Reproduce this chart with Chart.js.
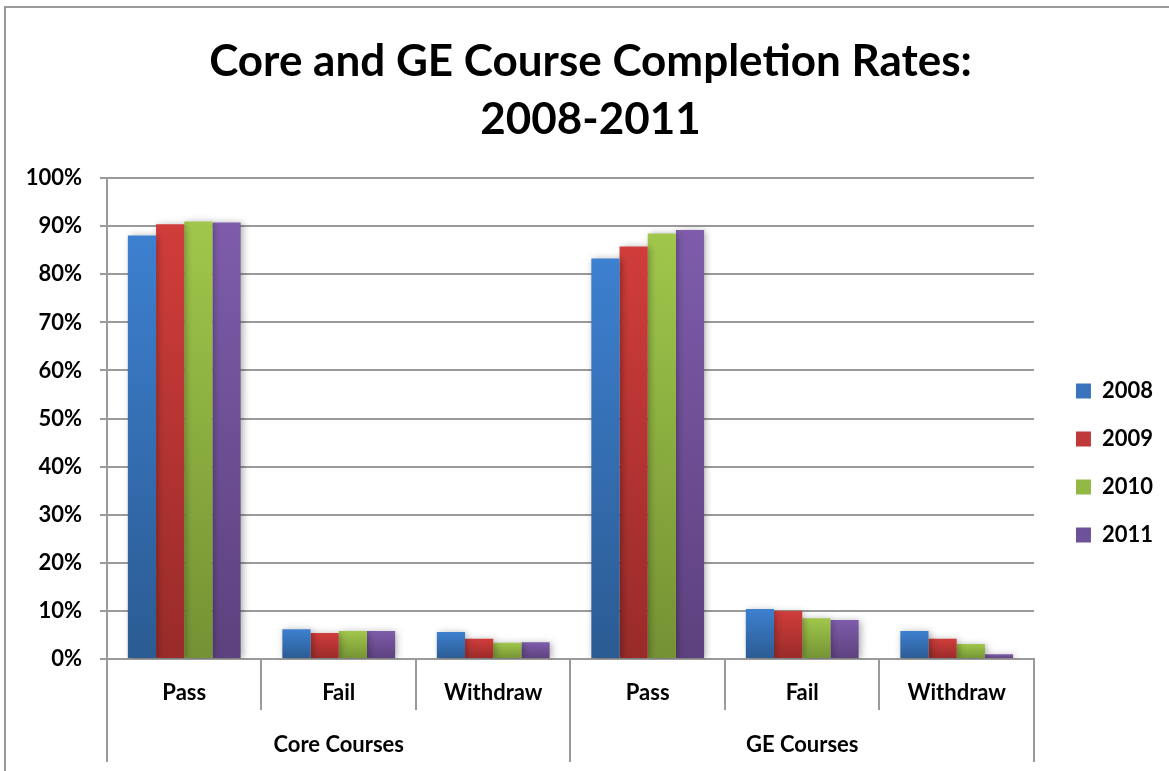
<!DOCTYPE html>
<html>
<head>
<meta charset="utf-8">
<title>Core and GE Course Completion Rates: 2008-2011</title>
<script src="https://cdn.jsdelivr.net/npm/chart.js@4"></script>
<style>
  html, body { margin: 0; padding: 0; background: #fff; }
  #wrap { position: relative; width: 1169px; height: 771px; overflow: hidden; }
  #frame {
    position: absolute; left: 4px; top: 6px; width: 1200px; height: 800px;
    border-left: 2px solid #9a9a9a; border-top: 2px solid #9a9a9a;
  }
  #chart { position: absolute; left: 0; top: 0; }
</style>
</head>
<body>
<div id="wrap">
  <div id="frame"></div>
  <canvas id="chart" width="1169" height="771"></canvas>
</div>
<script>
/* ── data ── */
const outcomes = ['Pass', 'Fail', 'Withdraw', 'Pass', 'Fail', 'Withdraw'];
const courseGroups = ['Core Courses', 'GE Courses'];
const years = ['2008', '2009', '2010', '2011'];

const rates2008 = [88.1, 6.2, 5.6, 83.3, 10.4, 5.8];
const rates2009 = [90.4, 5.4, 4.2, 85.8, 10.0, 4.2];
const rates2010 = [91.0, 5.8, 3.4, 88.5, 8.5, 3.1];
const rates2011 = [90.8, 5.8, 3.5, 89.2, 8.1, 1.0];

const yTicks = [0, 10, 20, 30, 40, 50, 60, 70, 80, 90, 100];

/* ── colours: [top, bottom, legend] ── */
const palette = [
  ['#3d80d0', '#2b5b92', '#3a74bc'],
  ['#d03d3b', '#982b29', '#c0393a'],
  ['#a0c74b', '#749233', '#92b845'],
  ['#7e5cab', '#5d417e', '#6f519a']
];

const FONT = 'Lato, "Open Sans", sans-serif';

function barFill(i) {
  return (ctx) => {
    const chart = ctx.chart;
    if (ctx.type !== 'data' || !chart.chartArea) return palette[i][2];
    const y = chart.scales.y;
    const top = y.getPixelForValue(ctx.raw);
    const base = y.getPixelForValue(0);
    if (!isFinite(top) || top === base) return palette[i][2];
    const g = chart.ctx.createLinearGradient(0, top, 0, base);
    g.addColorStop(0, palette[i][0]);
    g.addColorStop(1, palette[i][1]);
    return g;
  };
}

const seriesValues = [rates2008, rates2009, rates2010, rates2011];

const datasets = years.map((yr, i) => ({
  label: yr,
  data: seriesValues[i],
  backgroundColor: barFill(i),
  borderWidth: 0,
  categoryPercentage: 0.73,
  barPercentage: 1.0
}));

/* soft drop shadow under the bars */
const barShadow = {
  id: 'barShadow',
  beforeDatasetsDraw(chart) {
    const c = chart.ctx;
    c.save();
    c.shadowColor = 'rgba(0,0,0,0.32)';
    c.shadowBlur = 7;
    c.shadowOffsetX = 2;
    c.shadowOffsetY = 1;
  },
  afterDatasetsDraw(chart) {
    chart.ctx.restore();
  }
};

const gridGrey = '#9a9a9a';
const labelFont = { family: FONT, size: 22, weight: 'bold' };

new Chart(document.getElementById('chart'), {
  type: 'bar',
  data: { labels: outcomes, datasets },
  plugins: [barShadow],
  options: {
    responsive: false,
    animation: false,
    layout: { padding: { left: 18, right: 6, top: 33, bottom: 9 } },
    plugins: {
      title: {
        display: true,
        text: ['Core and GE Course Completion Rates:', '2008-2011'],
        color: '#000',
        font: { family: FONT, size: 44, weight: 'bold', lineHeight: 1.32 },
        padding: { top: 0, bottom: 29 }
      },
      legend: {
        position: 'right',
        title: { display: true, text: '', font: { size: 10 }, padding: { top: 119, bottom: 0 } },
        labels: {
          color: '#000',
          boxWidth: 15,
          boxHeight: 15,
          padding: 26,
          font: labelFont,
          generateLabels(chart) {
            return chart.data.datasets.map((ds, i) => ({
              text: ds.label,
              fillStyle: palette[i][2],
              strokeStyle: palette[i][2],
              fontColor: '#000',
              lineWidth: 0,
              datasetIndex: i
            }));
          }
        }
      },
      tooltip: { enabled: false }
    },
    scales: {
      y: {
        min: 0,
        max: 100,
        afterBuildTicks(scale) {
          scale.ticks = yTicks.map(v => ({ value: v }));
        },
        afterFit(scale) { scale.width = 89; },
        ticks: {
          color: '#000',
          padding: 18,
          font: { family: FONT, size: 22, weight: 'bold' },
          callback: v => v + '%'
        },
        grid: { color: gridGrey, lineWidth: 2, tickLength: 7 },
        border: { color: gridGrey, width: 2 }
      },
      yGap: {
        position: 'right',
        display: true,
        grid: { display: false },
        ticks: { display: false },
        border: { display: false },
        afterFit(scale) { scale.width = 16; }
      },
      x: {
        offset: true,
        afterFit(scale) { scale.height = 51; },
        ticks: { color: '#000', padding: -30, maxRotation: 0, autoSkip: false, font: labelFont },
        grid: { offset: true, drawOnChartArea: false, color: gridGrey, lineWidth: 2, tickLength: 51 },
        border: { color: gridGrey, width: 2 }
      },
      x2: {
        type: 'category',
        labels: courseGroups,
        position: 'bottom',
        offset: true,
        afterFit(scale) { scale.height = 52; },
        ticks: { color: '#000', padding: -30, maxRotation: 0, autoSkip: false, font: labelFont },
        grid: { offset: true, drawOnChartArea: false, color: gridGrey, lineWidth: 2, tickLength: 52 },
        border: { display: false }
      }
    }
  }
});
</script>
</body>
</html>
